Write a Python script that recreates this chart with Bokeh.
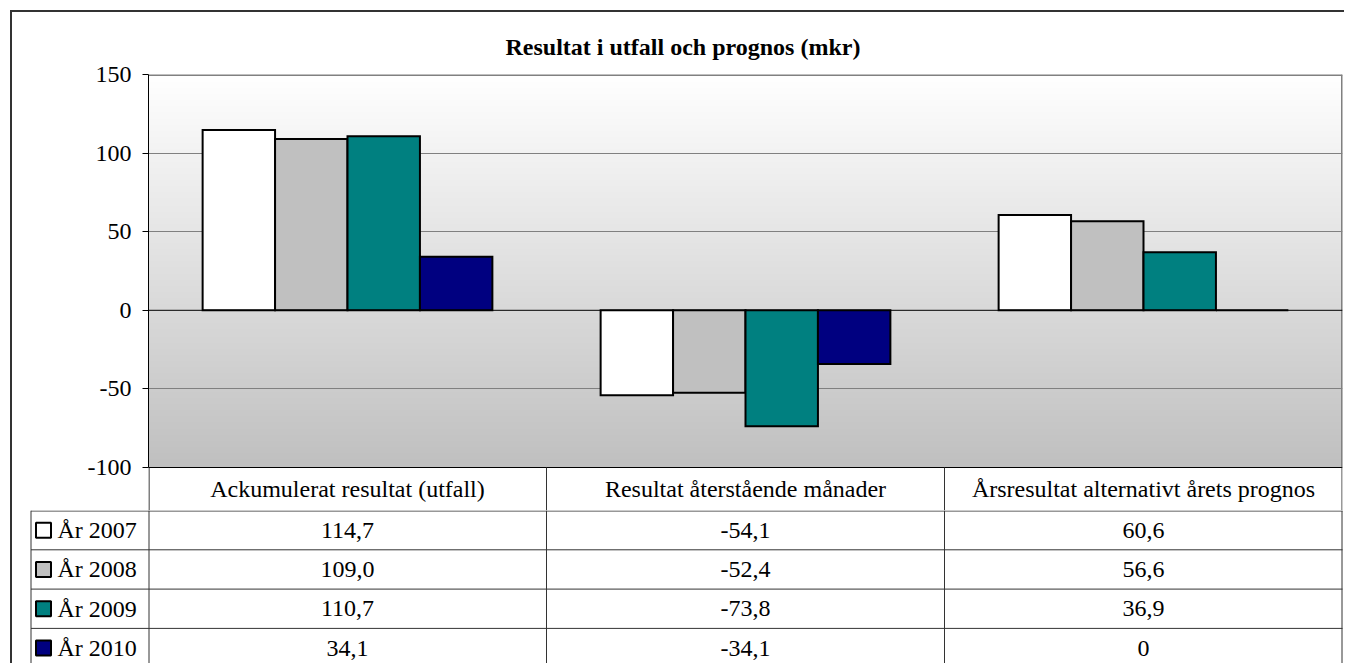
import numpy as np
from bokeh.plotting import figure
from bokeh.models import Range1d, Span, FixedTicker
from bokeh.layouts import column
from bokeh.core.properties import value
from bokeh.embed import file_html
from bokeh.resources import INLINE

# ---------------- data ----------------
title_text = "Resultat i utfall och prognos (mkr)"
categories = ["Ackumulerat resultat (utfall)",
              "Resultat återstående månader",
              "Årsresultat alternativt årets prognos"]
series_names = ["År 2007", "År 2008", "År 2009", "År 2010"]
y2007 = [114.7, -54.1, 60.6]
y2008 = [109.0, -52.4, 56.6]
y2009 = [110.7, -73.8, 36.9]
y2010 = [34.1, -34.1, 0.0]
y_ticks = [-100, -50, 0, 50, 100, 150]
grid_ticks = [-50, 50, 100]
colors = ["#FFFFFF", "#C0C0C0", "#008080", "#000080"]

series = [y2007, y2008, y2009, y2010]

# ---------------- layout constants ----------------
FONT = value("Liberation Serif")
FS = "24px"
W = 1332          # canvas width of both figures
L = 136           # left border of chart (frame starts at page x=148)
R = 2
TOP = 62
CH = 393          # pixel height of value area
HEAD = 43         # header row (category names) height in px
H1 = TOP + CH + HEAD
n = len(categories)
unit = (W - L - R) / n
bar_w = 0.182
y_lo, y_hi = y_ticks[0], y_ticks[-1]
per_px = (y_hi - y_lo) / CH
y_bottom = y_lo - HEAD * per_px
LC = "#333333"

# ---------------- chart ----------------
p = figure(width=W, height=H1,
           x_range=Range1d(0, n), y_range=Range1d(y_bottom, y_hi),
           output_backend="svg", toolbar_location=None,
           x_axis_location=None,
           min_border_left=L, min_border_right=R, min_border_top=TOP,
           min_border_bottom=0, title=title_text)
p.frame_align = False
p.title.text_font = "Liberation Serif"
p.title.text_font_size = "24px"
p.title.text_font_style = "bold"
p.title.text_color = "black"
p.title.align = "left"
p.title.offset = 357
p.title.standoff = 29

p.background_fill_color = "white"
p.border_fill_color = "white"
p.outline_line_color = None

ax = p.yaxis[0]
ax.ticker = FixedTicker(ticks=y_ticks)
ax.bounds = (y_lo, y_hi)
ax.major_label_overrides = {t: str(t) for t in y_ticks}
ax.minor_tick_line_color = None
ax.major_tick_in = 0
ax.major_tick_out = 6
ax.major_tick_line_color = "black"
ax.axis_line_color = "black"
ax.axis_line_width = 1
ax.major_label_text_font = "Liberation Serif"
ax.major_label_text_font_size = FS
ax.major_label_text_color = "black"
ax.major_label_standoff = 11

p.xgrid.visible = False
p.ygrid.ticker = FixedTicker(ticks=grid_ticks)
p.ygrid.grid_line_color = "#808080"
p.ygrid.grid_line_width = 1

# gradient background (white at top -> silver at bottom)
nrow = 256
g = np.linspace(192, 255, nrow).astype(np.uint8)
img = np.zeros((nrow, 1), dtype=np.uint32)
view = img.view(dtype=np.uint8).reshape((nrow, 1, 4))
view[:, 0, 0] = g
view[:, 0, 1] = g
view[:, 0, 2] = g
view[:, 0, 3] = 255
p.image_rgba(image=[img], x=0, y=y_lo, dw=n, dh=y_hi - y_lo, level="image")

# plot area border (grey top and right)
p.segment(x0=[0, n - 0.5 / unit], y0=[y_hi - 0.5 * per_px, y_lo],
          x1=[n, n - 0.5 / unit], y1=[y_hi - 0.5 * per_px, y_hi],
          line_color="#808080", line_width=2)

p.add_layout(Span(location=0, dimension="width", line_color="black",
                  line_width=1))

xs = np.arange(n) + 0.5
for i, (vals, col) in enumerate(zip(series, colors)):
    p.vbar(x=xs + (i - (len(series) - 1) / 2) * bar_w, top=vals, bottom=0,
           width=bar_w, fill_color=col, line_color="black", line_width=2,
           line_join="miter")

# header row (category names) inside chart frame
p.segment(x0=[0], y0=[y_lo], x1=[n], y1=[y_lo], line_color="black", line_width=1)
vx = [k + (0.5 / unit if k == 0 else 0) for k in range(n)] + [n - 0.5 / unit]
p.segment(x0=vx, y0=[y_bottom] * (n + 1), x1=vx, y1=[y_lo] * (n + 1),
          line_color=["black"] + [LC] * n, line_width=1)
p.text(x=xs, y=[y_lo - HEAD / 2 * per_px] * n, text=categories, text_font=FONT,
       text_font_size=FS, text_align="center", text_baseline="middle",
       text_color="black")

# ---------------- data table ----------------
H2 = 153
ROW = 39.3
t = figure(width=W, height=H2,
           x_range=Range1d(-L / unit, n + R / unit), y_range=Range1d(H2, 0),
           output_backend="svg", toolbar_location=None,
           x_axis_location=None, y_axis_location=None, min_border=0)
t.frame_align = False
t.outline_line_color = None
t.grid.visible = False
t.background_fill_color = "white"
t.border_fill_color = "white"

x_left = (18.5 - L) / unit
ns = len(series)
row_lines = [0.5] + [k * ROW for k in range(1, ns)]

# horizontal lines
t.segment(x0=[x_left] * ns, y0=row_lines, x1=[n] * ns, y1=row_lines,
          line_color=LC, line_width=1)
# vertical lines
vx2 = [k + (0.5 / unit if k == 0 else 0) for k in range(n)] + [n - 0.5 / unit]
t.segment(x0=vx2, y0=[0] * (n + 1), x1=vx2, y1=[H2] * (n + 1),
          line_color=LC, line_width=1)
t.segment(x0=[x_left], y0=[0], x1=[x_left], y1=[H2], line_color=LC, line_width=1)


def fmt(v):
    if v == 0:
        return "0"
    return f"{v:.1f}".replace(".", ",")


for i, (name, vals, col) in enumerate(zip(series_names, series, colors)):
    yc = i * ROW + ROW / 2
    t.text(x=xs, y=[yc] * n, text=[fmt(v) for v in vals], text_font=FONT,
           text_font_size=FS, text_align="center", text_baseline="middle",
           text_color="black")
    t.scatter(x=[(31 - L) / unit], y=[yc], marker="square", size=15,
              fill_color=col, line_color="black", line_width=2)
    t.text(x=[(45 - L) / unit], y=[yc], text=[name], text_font=FONT,
           text_font_size=FS, text_align="left", text_baseline="middle",
           text_color="black")

layout = column(p, t, spacing=0,
                styles={"border-top": "2px solid #333333",
                        "border-left": "2px solid #333333",
                        "margin": "10px 0 0 10px"})

open("out.html", "w").write(file_html(layout, INLINE))
